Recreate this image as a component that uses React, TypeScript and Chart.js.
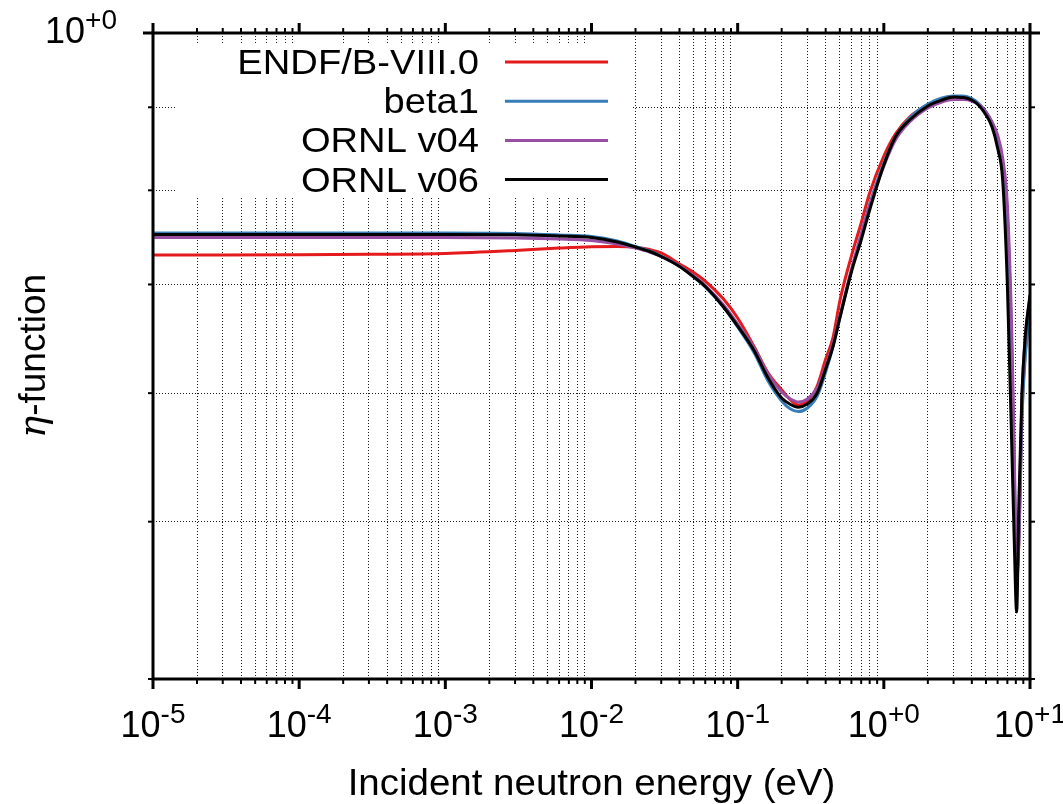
import React, { useEffect, useRef } from 'react';
import { Chart, registerables } from 'chart.js';

Chart.register(...registerables);

// ---------------- data ----------------
const ENERGY_EV = [
  1e-5, 3e-5, 1e-4, 3e-4, 1e-3,
  3e-3, 6e-3, 0.01, 0.015, 0.02,
  0.025, 0.03, 0.04, 0.05, 0.06,
  0.08, 0.1, 0.13, 0.16, 0.2,
  0.23, 0.26, 0.3, 0.35, 0.4,
  0.45, 0.5, 0.6, 0.7, 0.8,
  1.0, 1.2, 1.5, 2.0, 2.5,
  3.0, 3.5, 4.0, 4.5, 5.0,
  5.5, 6.0, 6.5, 7.0, 7.5,
  7.8, 8.1, 8.4, 8.8, 9.3,
  10,
];

const ENDF_B8 = [
  0.7298, 0.7298, 0.7301, 0.7306, 0.7314,
  0.7345, 0.7371, 0.7385, 0.7387, 0.7379,
  0.7356, 0.732, 0.7206, 0.712, 0.7034,
  0.6857, 0.6675, 0.6406, 0.6183, 0.6027,
  0.5942, 0.59, 0.5934, 0.6061, 0.6297,
  0.6497, 0.6838, 0.7288, 0.7638, 0.797,
  0.8399, 0.8665, 0.8877, 0.9029, 0.9106,
  0.9132, 0.9132, 0.91, 0.9029, 0.8927,
  0.8789, 0.8592, 0.8257, 0.7562, 0.62,
  0.5305, 0.4603, 0.4872, 0.5817, 0.6379,
  0.6799,
];

const BETA1 = [
  0.753, 0.753, 0.753, 0.753, 0.753,
  0.7525, 0.7509, 0.7493, 0.7445, 0.7387,
  0.734, 0.7288, 0.7186, 0.7075, 0.6975,
  0.678, 0.659, 0.6352, 0.6113, 0.5934,
  0.5866, 0.5845, 0.5875, 0.5976, 0.6183,
  0.6415, 0.6675, 0.7145, 0.7519, 0.7847,
  0.8316, 0.8629, 0.8864, 0.9042, 0.9119,
  0.9145, 0.9145, 0.9113, 0.9042, 0.894,
  0.8801, 0.8617, 0.8328, 0.7725, 0.6379,
  0.538, 0.4636, 0.4872, 0.5776, 0.6334,
  0.6694,
];

const ORNL_V04 = [
  0.7482, 0.7482, 0.7482, 0.7482, 0.7482,
  0.7477, 0.7466, 0.745, 0.7413, 0.7371,
  0.733, 0.7283, 0.7186, 0.7084, 0.699,
  0.6799, 0.6618, 0.6397, 0.6174, 0.601,
  0.5951, 0.5925, 0.5951, 0.6044, 0.6227,
  0.6443, 0.6694, 0.7145, 0.7509, 0.7824,
  0.8281, 0.8592, 0.8814, 0.8991, 0.9068,
  0.91, 0.91, 0.908, 0.9029, 0.894,
  0.8814, 0.8653, 0.8375, 0.7835, 0.6562,
  0.5535, 0.4736, 0.4941, 0.5942, 0.6516,
  0.6876,
];

const ORNL_V06 = [
  0.7514, 0.7514, 0.7514, 0.7514, 0.7514,
  0.7511, 0.7498, 0.7482, 0.7435, 0.7382,
  0.7335, 0.7283, 0.7181, 0.7075, 0.698,
  0.678, 0.6599, 0.637, 0.6139, 0.5959,
  0.5904, 0.5881, 0.5909, 0.6001, 0.6209,
  0.6415, 0.6675, 0.7125, 0.7456, 0.778,
  0.8293, 0.8629, 0.8839, 0.9017, 0.9093,
  0.9132, 0.9126, 0.9093, 0.9017, 0.8902,
  0.8752, 0.8495, 0.8118, 0.6995, 0.5574,
  0.4872, 0.4399, 0.5156, 0.5985, 0.6516,
  0.6896,
];

const SERIES_LABELS = ['ENDF/B-VIII.0', 'beta1', 'ORNL v04', 'ORNL v06'];
const SERIES_COLORS = ['#e41a1c', '#377eb8', '#984ea3', '#000000'];

const X_DECADES = [1e-5, 1e-4, 1e-3, 1e-2, 1e-1, 1, 10];
const X_TICK_EXPONENTS = ['-5', '-4', '-3', '-2', '-1', '+0', '+1'];
const Y_DECADES = [1];
const Y_TICK_EXPONENTS = ['+0'];
const Y_MINOR = [0.4, 0.5, 0.6, 0.7, 0.8, 0.9];
const X_RANGE = [1e-5, 10];
const Y_RANGE = [0.4, 1];

const X_TITLE = 'Incident neutron energy (eV)';
const Y_TITLE_SYMBOL = 'η';
const Y_TITLE_REST = '-function';

// ---------------- helpers ----------------
const SANS = '"Liberation Sans", Arial, Helvetica, sans-serif';

const isDecade = (v: number) => {
  const l = Math.log10(v);
  return Math.abs(l - Math.round(l)) < 1e-6;
};

const X_MINOR: number[] = [];
for (let i = 0; i < X_DECADES.length - 1; i++) {
  for (let m = 2; m <= 9; m++) X_MINOR.push(m * X_DECADES[i]);
}
const X_GRID = [...X_DECADES, ...X_MINOR].sort((a, b) => a - b);
const Y_GRID = [...Y_MINOR, ...Y_DECADES].sort((a, b) => a - b);

function drawPower(ctx: CanvasRenderingContext2D, x: number, y: number, exp: string, size: number, align: 'center' | 'right') {
  const supSize = Math.round(size * 0.78);
  ctx.font = `${size}px ${SANS}`;
  const wBase = ctx.measureText('10').width;
  ctx.font = `${supSize}px ${SANS}`;
  const wSup = ctx.measureText(exp).width;
  const total = wBase + wSup;
  const left = align === 'center' ? x - total / 2 : x - total;
  ctx.textAlign = 'left';
  ctx.textBaseline = 'alphabetic';
  ctx.font = `${size}px ${SANS}`;
  ctx.fillText('10', left, y);
  ctx.font = `${supSize}px ${SANS}`;
  ctx.fillText(exp, left + wBase, y - size * 0.4);
}

// draw text horizontally stretched (gnuplot's Helvetica renders wider)
function stretchedText(ctx: CanvasRenderingContext2D, text: string, x: number, y: number, sx: number, align: CanvasTextAlign) {
  ctx.save();
  ctx.translate(x, y);
  ctx.scale(sx, 1);
  ctx.textAlign = align;
  ctx.fillText(text, 0, 0);
  ctx.restore();
}

const gnuplotFrame = {
  id: 'gnuplotFrame',
  beforeDatasetsDraw(chart: any) {
    // opaque key box hides the grid behind the legend
    const ctx = chart.ctx;
    const { left, top } = chart.chartArea;
    ctx.save();
    ctx.fillStyle = '#ffffff';
    ctx.fillRect(left + 22, top + 10, 457, 154);
    ctx.restore();
  },
  afterDatasetsDraw(chart: any) {
    const ctx: CanvasRenderingContext2D = chart.ctx;
    const { left, right, top, bottom } = chart.chartArea;
    const xs = chart.scales.x;
    const ys = chart.scales.y;
    ctx.save();
    ctx.strokeStyle = '#000';
    ctx.fillStyle = '#000';
    ctx.lineCap = 'butt';

    const seg = (x1: number, y1: number, x2: number, y2: number, w: number) => {
      ctx.lineWidth = w;
      ctx.beginPath();
      ctx.moveTo(x1, y1);
      ctx.lineTo(x2, y2);
      ctx.stroke();
    };

    // x ticks (outward, mirrored)
    X_GRID.forEach((v) => {
      const px = xs.getPixelForValue(v);
      const major = isDecade(v);
      const len = major ? 10 : 5;
      const w = major ? 3 : 2;
      seg(px, bottom, px, bottom + len, w);
      seg(px, top, px, top - len, w);
    });
    // y ticks
    Y_GRID.forEach((v) => {
      const py = ys.getPixelForValue(v);
      const major = isDecade(v);
      const len = major ? 10 : 5;
      const w = major ? 3 : 2;
      seg(left, py, left - len, py, w);
      seg(right, py, right + len, py, w);
    });

    // frame
    ctx.lineWidth = 3;
    ctx.strokeRect(left, top, right - left, bottom - top);

    // tick labels
    X_DECADES.forEach((v, i) => {
      drawPower(ctx, xs.getPixelForValue(v), bottom + 58, X_TICK_EXPONENTS[i], 36, 'center');
    });
    Y_DECADES.forEach((v, i) => {
      drawPower(ctx, left - 36, ys.getPixelForValue(v) + 10, Y_TICK_EXPONENTS[i], 36, 'right');
    });

    // axis titles
    ctx.font = `37px ${SANS}`;
    ctx.textBaseline = 'alphabetic';
    stretchedText(ctx, X_TITLE, (left + right) / 2, 795, 1.04, 'center');

    ctx.save();
    ctx.translate(45, (top + bottom) / 2);
    ctx.rotate(-Math.PI / 2);
    const symFont = `italic 37px "DejaVu Serif", "Liberation Serif", serif`;
    const restFont = `37px ${SANS}`;
    ctx.font = symFont;
    const wSym = ctx.measureText(Y_TITLE_SYMBOL).width;
    ctx.font = restFont;
    const wRest = ctx.measureText(Y_TITLE_REST).width;
    const start = -(wSym + wRest) / 2;
    ctx.textAlign = 'left';
    ctx.font = symFont;
    ctx.fillText(Y_TITLE_SYMBOL, start, 0);
    ctx.font = restFont;
    ctx.fillText(Y_TITLE_REST, start + wSym, 0);
    ctx.restore();

    // key
    const ds = chart.data.datasets;
    ctx.font = `35px ${SANS}`;
    ctx.textBaseline = 'alphabetic';
    ds.forEach((d: any, i: number) => {
      const rowY = top + 29 + i * 39.2;
      ctx.fillStyle = '#000';
      stretchedText(ctx, d.label, left + 326, rowY + 12, 1.09, 'right');
      ctx.strokeStyle = d.borderColor;
      seg(left + 352, rowY, left + 455, rowY, 3);
    });

    ctx.restore();
  },
};

export default function App() {
  const canvasRef = useRef<HTMLCanvasElement | null>(null);

  useEffect(() => {
    const canvas = canvasRef.current;
    if (!canvas) return;
    const seriesValues = [ENDF_B8, BETA1, ORNL_V04, ORNL_V06];
    const datasets = seriesValues.map((vals, i) => ({
      label: SERIES_LABELS[i],
      data: ENERGY_EV.map((e, j) => ({ x: e, y: vals[j] })),
      borderColor: SERIES_COLORS[i],
      backgroundColor: SERIES_COLORS[i],
      borderWidth: 3,
      pointRadius: 0,
      fill: false,
      cubicInterpolationMode: 'monotone' as const,
      order: 3 - i,
    }));

    const gridColor = (ctx: any) =>
      ctx.tick && isDecade(ctx.tick.value) ? 'rgba(0,0,0,0)' : 'rgba(0,0,0,0.9)';
    const yGridColor = (ctx: any) =>
      ctx.tick && (isDecade(ctx.tick.value) || Math.abs(ctx.tick.value - Y_RANGE[0]) < 1e-9)
        ? 'rgba(0,0,0,0)'
        : 'rgba(0,0,0,0.9)';

    const chart = new Chart(canvas, {
      type: 'line',
      data: { datasets },
      options: {
        responsive: false,
        animation: false,
        devicePixelRatio: 1,
        layout: { padding: { left: 153, right: 33, top: 33, bottom: 125 } },
        plugins: { legend: { display: false }, tooltip: { enabled: false } },
        scales: {
          x: {
            type: 'logarithmic',
            min: X_RANGE[0],
            max: X_RANGE[1],
            bounds: 'data',
            afterBuildTicks: (axis: any) => {
              axis.ticks = X_GRID.map((v) => ({ value: v }));
            },
            ticks: { display: false, autoSkip: false },
            grid: { color: gridColor, lineWidth: 1, drawTicks: false },
            border: { display: false, dash: [1, 2] },
          },
          y: {
            type: 'logarithmic',
            min: Y_RANGE[0],
            max: Y_RANGE[1],
            bounds: 'data',
            afterBuildTicks: (axis: any) => {
              axis.ticks = Y_GRID.map((v) => ({ value: v }));
            },
            ticks: { display: false, autoSkip: false },
            grid: { color: yGridColor, lineWidth: 1, drawTicks: false },
            border: { display: false, dash: [1, 2] },
          },
        },
      },
      plugins: [gnuplotFrame],
    } as any);

    return () => chart.destroy();
  }, []);

  return (
    <div style={{ position: 'fixed', left: 0, top: 0, width: 1063, height: 804, background: '#fff' }}>
      <canvas ref={canvasRef} width={1063} height={804} style={{ display: 'block' }} />
    </div>
  );
}
